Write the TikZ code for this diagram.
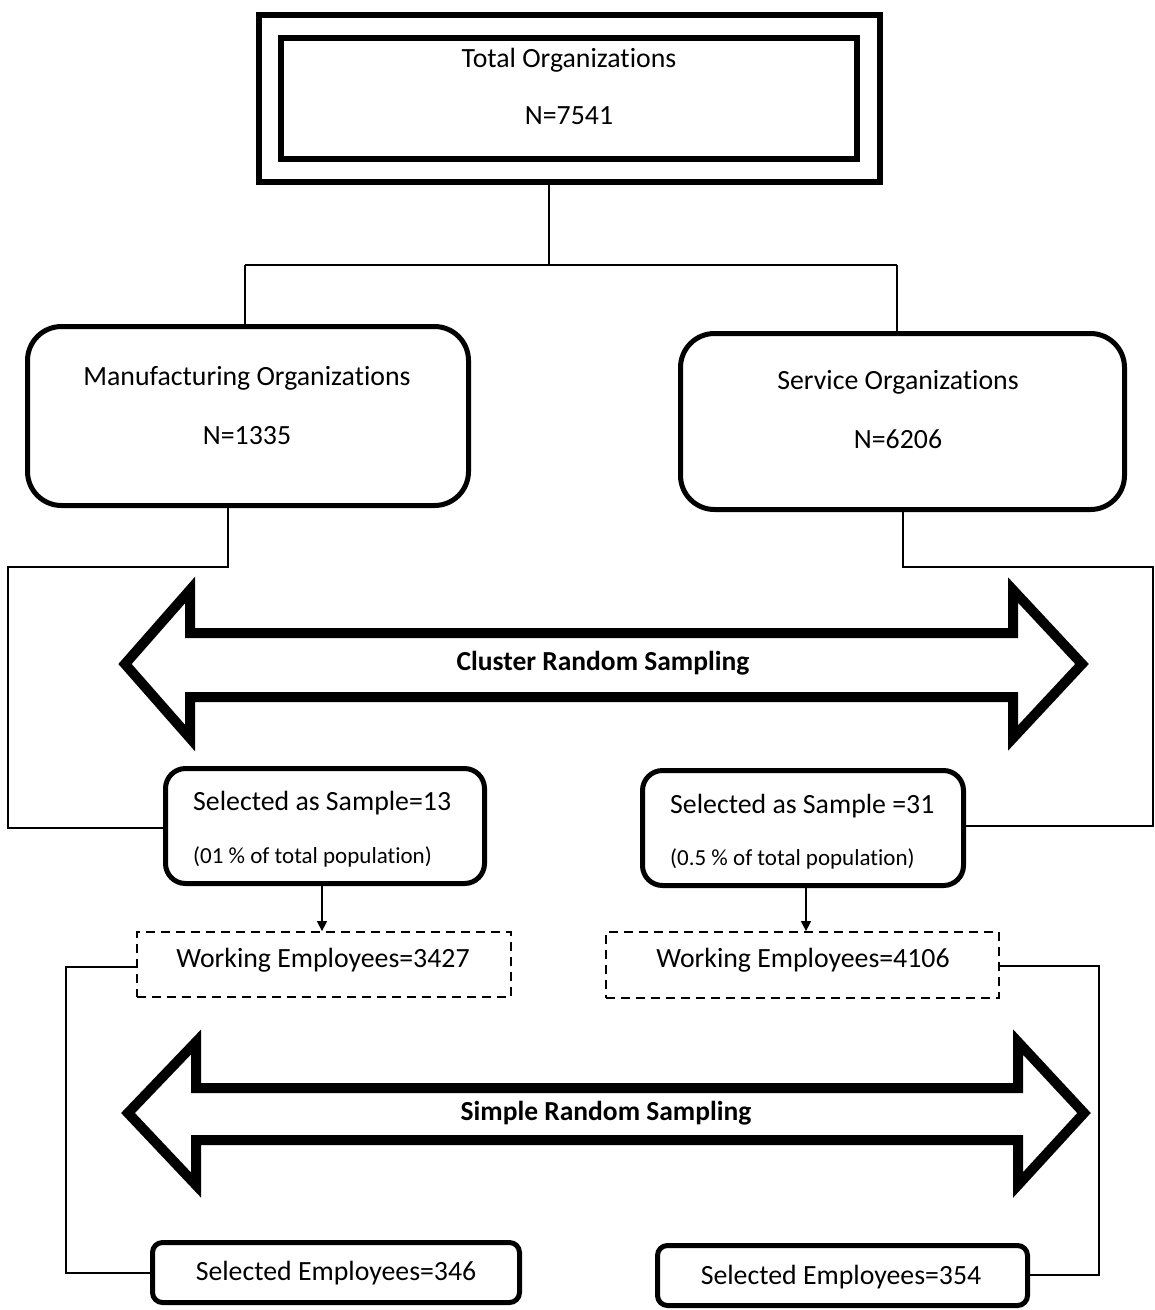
\documentclass[tikz,border=0pt]{standalone}
\usepackage{fontspec}
\setmainfont{Carlito}[Ligatures=NoCommon]
\usetikzlibrary{arrows.meta}
\begin{document}
\begin{tikzpicture}[x=1pt,y=-1pt,
  conn/.style={line width=1.4pt, line join=miter},
  boldbox/.style={draw, line width=6pt, inner sep=0pt},
  roundbox/.style={draw, line width=5pt, rounded corners=#1, inner sep=0pt},
  dashbox/.style={draw, line width=1.8pt, dash pattern=on 9pt off 6pt, inner sep=0pt},
  txt/.style={font=\fontsize{27.8}{32}\selectfont, inner sep=0pt},
  smalltxt/.style={font=\fontsize{23}{27}\selectfont, inner sep=0pt},
  bigarrow/.style={draw, line width=10pt, line join=miter, fill=white},
  arrowtxt/.style={font=\fontsize{27.5}{32}\selectfont\bfseries, inner sep=0pt},
  tip/.style={-{Triangle[length=10pt,width=10pt]}}
]
\useasboundingbox (0,0) rectangle (1155,1310);

% top: total population
\node[boldbox, minimum width=621pt, minimum height=167pt] (totalout) at (569.5,98.5) {};
\node[boldbox, minimum width=576pt, minimum height=121pt] (total) at (569,98.5) {};
\node[txt] (totalA) at (569,60) {Total Organizations};
\node[txt] (totalB) at (569,116) {N=7541};

% sectors
\node[roundbox=34pt, minimum width=441pt, minimum height=179pt] (manu) at (248,416) {};
\node[txt] (manuA) at (247,378) {Manufacturing Organizations};
\node[txt] (manuB) at (247,436) {N=1335};
\node[roundbox=34pt, minimum width=444pt, minimum height=176pt] (serv) at (902.5,421.5) {};
\node[txt] (servA) at (898,382) {Service Organizations};
\node[txt] (servB) at (898,439) {N=6206};

% split from total into the two sectors
\coordinate (split) at (549,265);
\coordinate (jl) at (245,265);
\coordinate (jr) at (897,265);
\draw[conn] (totalout.south -| split) -- (split);
\draw[conn] (jl) -- (jr);
\draw[conn] (jl) -- (jl |- manu.north);
\draw[conn] (jr) -- (jr |- serv.north);

% cluster random sampling arrow
\draw[bigarrow] (125,664) -- (190,590) -- (190,633) -- (1013,633) -- (1013,590)
  -- (1082,664) -- (1013,738) -- (1013,697) -- (190,697) -- (190,738) -- cycle;
\node[arrowtxt] (cluster) at (603,663) {Cluster Random Sampling};

% selected samples
\node[roundbox=20pt, minimum width=319pt, minimum height=115pt] (sampL) at (325,826) {};
\node[txt, anchor=west] (sampLA) at (193,803) {Selected as Sample=13};
\node[smalltxt, anchor=west] (sampLB) at (193,857) {(01 \% of total population)};
\node[roundbox=20pt, minimum width=321pt, minimum height=115pt] (sampR) at (803,828) {};
\node[txt, anchor=west] (sampRA) at (670,806) {Selected as Sample =31};
\node[smalltxt, anchor=west] (sampRB) at (670,859) {(0.5 \% of total population)};

% sector to sample loops
\coordinate (ml1) at (228,567);
\coordinate (ml2) at (8,567);
\coordinate (ml3) at (8,828);
\draw[conn] (manu.south -| ml1) -- (ml1) -- (ml2) -- (ml3) -- (ml3 -| sampL.west);
\coordinate (sr1) at (903,567);
\coordinate (sr2) at (1153,567);
\coordinate (sr3) at (1153,826);
\draw[conn] (serv.south -| sr1) -- (sr1) -- (sr2) -- (sr3) -- (sr3 -| sampR.east);

% working employees
\node[dashbox, minimum width=374pt, minimum height=65pt] (workL) at (324,964.5) {};
\node[txt] (workLA) at (323,960) {Working Employees=3427};
\node[dashbox, minimum width=393pt, minimum height=66pt] (workR) at (802.5,965) {};
\node[txt] (workRA) at (803,960) {Working Employees=4106};

\coordinate (al) at (322,0);
\coordinate (ar) at (806,0);
\draw[conn, tip] (sampL.south -| al) -- (workL.north -| al);
\draw[conn, tip] (sampR.south -| ar) -- (workR.north -| ar);

% simple random sampling arrow
\draw[bigarrow] (128,1113) -- (196,1042) -- (196,1088) -- (1018,1088) -- (1018,1042)
  -- (1084,1113) -- (1018,1185) -- (1018,1140) -- (196,1140) -- (196,1185) -- cycle;
\node[arrowtxt] (simple) at (606,1113) {Simple Random Sampling};

% selected employees
\node[roundbox=10pt, minimum width=367pt, minimum height=60pt] (selL) at (336,1272.5) {};
\node[txt] (selLA) at (336,1273) {Selected Employees=346};
\node[roundbox=10pt, minimum width=370pt, minimum height=60pt] (selR) at (842.5,1275.5) {};
\node[txt] (selRA) at (841,1277) {Selected Employees=354};

% working employees to selected employees loops
\coordinate (wl1) at (66,967);
\coordinate (wl2) at (66,1273);
\draw[conn] (wl1 -| workL.west) -- (wl1) -- (wl2) -- (wl2 -| selL.west);
\coordinate (wr1) at (1099,966);
\coordinate (wr2) at (1099,1275);
\draw[conn] (wr1 -| workR.east) -- (wr1) -- (wr2) -- (wr2 -| selR.east);
\end{tikzpicture}
\end{document}
